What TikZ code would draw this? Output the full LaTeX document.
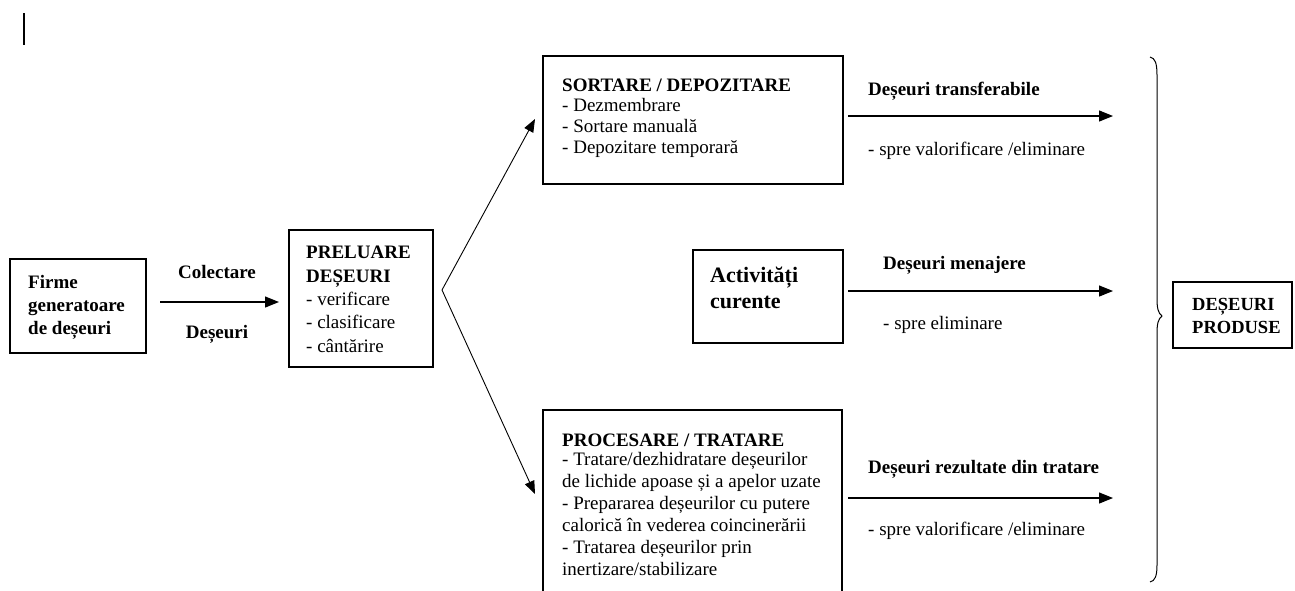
\documentclass[tikz,border=0pt]{standalone}
\usepackage{fontspec}
\setmainfont{Liberation Serif}
\usetikzlibrary{arrows.meta}
\begin{document}
\begin{tikzpicture}[x=1pt,y=-1pt,
  box/.style={draw, line width=1.1pt, anchor=north west, inner sep=0pt, outer sep=0pt},
  ln/.style={anchor=base west, inner sep=0pt, font=\fontsize{19}{22}\selectfont},
  lb/.style={anchor=base west, inner sep=0pt, font=\fontsize{19}{22}\selectfont\bfseries},
  lc/.style={anchor=base, inner sep=0pt, font=\fontsize{19}{22}\selectfont\bfseries},
  arr/.style={line width=1.2pt, -{Triangle[length=14pt,width=11pt]}},
  farr/.style={line width=0.9pt, -{Triangle[length=13pt,width=10pt]}}]

\useasboundingbox (0,0) rectangle (1295,590);

% cursor bar
\draw[line width=2pt] (24,13) -- (24,45);

% boxes
\node[box, minimum width=136pt, minimum height=94pt] (firme) at (10,259) {};
\node[box, minimum width=144pt, minimum height=137pt] (prel) at (289,230) {};
\node[box, minimum width=300pt, minimum height=128pt] (sort) at (543,56) {};
\node[box, minimum width=150pt, minimum height=93pt] (activ) at (693,250) {};
\node[anchor=north west, inner sep=0pt, outer sep=0pt, minimum width=299pt, minimum height=181pt] (proc) at (543,410) {};
\draw[line width=1.1pt] (proc.south west) -- (proc.north west) -- (proc.north east) -- (proc.south east);
\node[box, minimum width=119pt, minimum height=66pt] (prod) at (1173,282) {};

% texts: Firme
\node[lb] (f1) at (28,288) {Firme};
\node[lb] (f2) at (28,311) {generatoare};
\node[lb] (f3) at (28,334) {de deșeuri};

\node[lc] (col) at (217,278) {Colectare};
\node[lc] (des) at (217,338) {Deșeuri};

% PRELUARE
\node[lb] (p1) at (306,258) {PRELUARE};
\node[lb] (p2) at (306,282) {DEȘEURI};
\node[ln] (p3) at (306,305) {- verificare};
\node[ln] (p4) at (306,328) {- clasificare};
\node[ln] (p5) at (306,352) {- cântărire};

% SORTARE
\node[lb] (s1) at (562,91) {SORTARE / DEPOZITARE};
\node[ln] (s2) at (562,111) {- Dezmembrare};
\node[ln] (s3) at (562,132) {- Sortare manuală};
\node[ln] (s4) at (562,153) {- Depozitare temporară};

% Activitati
\node[anchor=base west, inner sep=0pt, font=\fontsize{22}{26}\selectfont\bfseries] (a1) at (710,282) {Activități};
\node[anchor=base west, inner sep=0pt, font=\fontsize{22}{26}\selectfont\bfseries] (a2) at (710,308) {curente};

% PROCESARE
\node[lb] (r1) at (562,446) {PROCESARE / TRATARE};
\node[ln] (r2) at (562,465) {- Tratare/dezhidratare deșeurilor};
\node[ln] (r3) at (562,487) {de lichide apoase și a apelor uzate};
\node[ln] (r4) at (562,509) {- Prepararea deșeurilor cu putere};
\node[ln] (r5) at (562,531) {calorică în vederea coincinerării};
\node[ln] (r6) at (562,553) {- Tratarea deșeurilor  prin};
\node[ln] (r7) at (562,575) {inertizare/stabilizare};

% right labels
\node[lb] (t1) at (868,95) {Deșeuri transferabile};
\node[ln] (t1b) at (868,155) {- spre valorificare /eliminare};
\node[lb] (t2) at (883,269) {Deșeuri menajere};
\node[ln] (t2b) at (883,329) {- spre eliminare};
\node[lb] (t3) at (868,473) {Deșeuri rezultate din tratare};
\node[ln] (t3b) at (868,535) {- spre valorificare /eliminare};

% produse
\node[anchor=base west, inner sep=0pt, font=\fontsize{18.5}{22}\selectfont\bfseries] (d1) at (1192,310) {DEȘEURI};
\node[anchor=base west, inner sep=0pt, font=\fontsize{18.5}{22}\selectfont\bfseries] (d2) at (1192,333) {PRODUSE};

% connector coordinates
\coordinate (c0) at (160,302);
\coordinate (c1) at (279,302);
\coordinate (fork) at (442,290);
\coordinate (up) at (535,119);
\coordinate (dn) at (535,494);
\coordinate (a1s) at (848,116);
\coordinate (a1e) at (1113,116);
\coordinate (a2s) at (848,291);
\coordinate (a2e) at (1113,291);
\coordinate (a3s) at (848,498);
\coordinate (a3e) at (1113,498);

\draw[arr] (c0) -- (c1);
\draw[farr] (fork) -- (up);
\draw[farr] (fork) -- (dn);
\draw[arr] (a1s) -- (a1e);
\draw[arr] (a2s) -- (a2e);
\draw[arr] (a3s) -- (a3e);

% brace
\draw[line width=1pt] (1150,57) .. controls (1155,58) and (1157,63) .. (1157,75)
  -- (1157,298) .. controls (1157,308) and (1158,313) .. (1162,316)
  .. controls (1158,319) and (1157,324) .. (1157,334)
  -- (1157,565) .. controls (1157,576) and (1155,581) .. (1150,582);
\end{tikzpicture}
\end{document}
